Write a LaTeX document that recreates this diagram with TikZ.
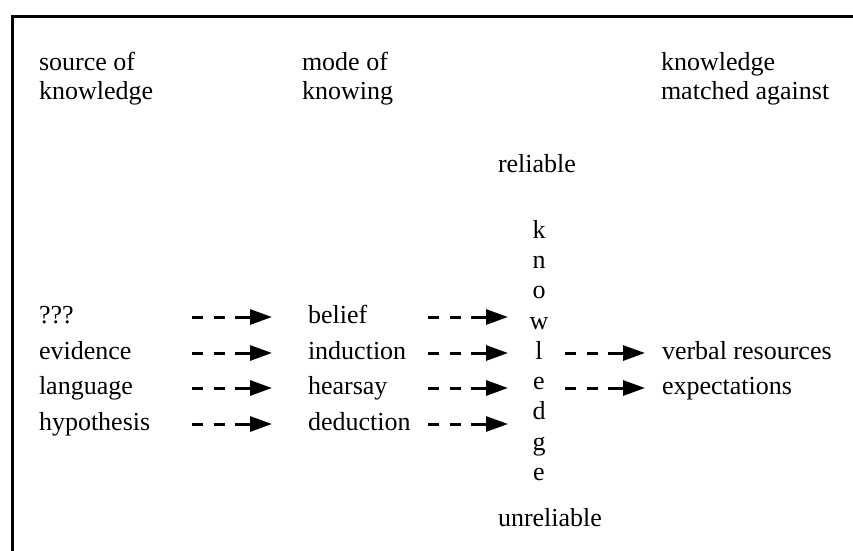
\documentclass[tikz,border=0pt]{standalone}
\usepackage{fontspec}
\setmainfont{Liberation Serif}
\usetikzlibrary{arrows.meta}
\begin{document}
\begin{tikzpicture}[x=1pt,y=-1pt,
  lbl/.style={inner sep=0pt,outer sep=0pt,anchor=base west,font=\fontsize{26}{29}\selectfont},
  ltr/.style={inner sep=0pt,outer sep=0pt,anchor=base,font=\fontsize{26}{29}\selectfont},
  darr/.style={line width=3pt,dash pattern=on 11pt off 10.5pt on 11pt off 10.5pt on 30pt off 1pt,
    -{Triangle[length=22pt,width=15pt]}},
  frameline/.style={line width=3pt}]
\useasboundingbox (0,0) rectangle (853,550);
\clip (0,0) rectangle (853,550);
\draw[frameline] (12.5,560) -- (12.5,16) -- (870,16);

% headers
\node[lbl] (h1a) at (39,70) {source of};
\node[lbl] (h1b) at (39,99) {knowledge};
\node[lbl] (h2a) at (302,70) {mode of};
\node[lbl] (h2b) at (302,99) {knowing};
\node[lbl] (h3a) at (661,70) {knowledge};
\node[lbl] (h3b) at (661,99) {matched against};

% left column
\node[lbl] (s1) at (39,323) {???};
\node[lbl] (s2) at (39,359) {evidence};
\node[lbl] (s3) at (39,394) {language};
\node[lbl] (s4) at (39,430) {hypothesis};

% middle column
\node[lbl] (m1) at (308,323) {belief};
\node[lbl] (m2) at (308,359) {induction};
\node[lbl] (m3) at (308,394) {hearsay};
\node[lbl] (m4) at (308,430) {deduction};

% reliability
\node[lbl] (rel) at (498,172) {reliable};
\node[lbl] (unrel) at (498,526) {unreliable};

% vertical knowledge
\node[ltr] (k1) at (539,238) {k};
\node[ltr] (k2) at (539,268) {n};
\node[ltr] (k3) at (539,298.5) {o};
\node[ltr] (k4) at (539,329) {w};
\node[ltr] (k5) at (539,359) {l};
\node[ltr] (k6) at (539,389) {e};
\node[ltr] (k7) at (539,419.5) {d};
\node[ltr] (k8) at (539,450) {g};
\node[ltr] (k9) at (539,480) {e};

% right column
\node[lbl] (r1) at (662,359) {verbal resources};
\node[lbl] (r2) at (662,394) {expectations};

% arrow end points
\foreach \i/\y in {1/317,2/353,3/388,4/424}{
  \coordinate (a\i s) at (192,\y);
  \coordinate (a\i e) at (272,\y);
  \coordinate (b\i s) at (428,\y);
  \coordinate (b\i e) at (508,\y);
}
\coordinate (c1s) at (565,353);
\coordinate (c1e) at (645,353);
\coordinate (c2s) at (565,388);
\coordinate (c2e) at (645,388);

\foreach \i in {1,2,3,4}{
  \draw[darr] (a\i s) -- (a\i e);
  \draw[darr] (b\i s) -- (b\i e);
}
\draw[darr] (c1s) -- (c1e);
\draw[darr] (c2s) -- (c2e);
\end{tikzpicture}
\end{document}
